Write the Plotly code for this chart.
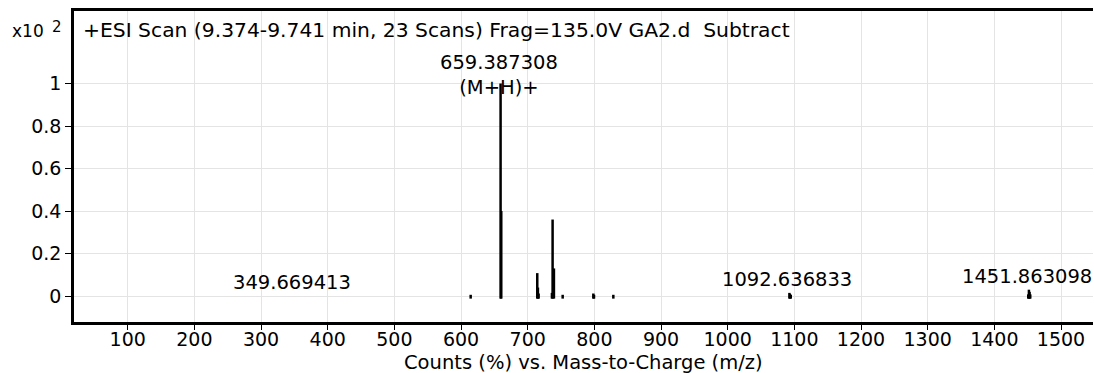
import plotly.graph_objects as go

# ---- data (m/z, relative abundance x10^2) ----
peak_mz = [614.5, 659.387308, 660.39, 714.4, 715.4, 716.4,
           736.4, 737.4, 739.4, 752.5, 798.5, 799.5, 828.5,
           1092.636833, 1093.64, 1094.64, 1450.86, 1451.863098, 1452.87, 1453.87]
peak_int = [0.006, 1.0, 0.40, 0.108, 0.04, 0.012,
            0.015, 0.36, 0.13, 0.006, 0.012, 0.006, 0.006,
            0.015, 0.01, 0.005, 0.008, 0.03, 0.02, 0.008]

label_mz = [349.669413, 659.387308, 1092.636833, 1451.863098]
label_int = [0.0, 1.0, 0.015, 0.03]
label_text = ["349.669413", "659.387308<br>(M+H)+", "1092.636833", "1451.863098"]

x_ticks = [100, 200, 300, 400, 500, 600, 700, 800, 900, 1000, 1100, 1200, 1300, 1400, 1500]
y_ticks = [0, 0.2, 0.4, 0.6, 0.8, 1]
y_tick_text = ["0", "0.2", "0.4", "0.6", "0.8", "1"]

title_text = "+ESI Scan (9.374-9.741 min, 23 Scans) Frag=135.0V GA2.d  Subtract"
x_title = "Counts (%) vs. Mass-to-Charge (m/z)"

BASE = -0.012
FONT = "DejaVu Sans, Arial, sans-serif"

xs, ys = [], []
for m, v in zip(peak_mz, peak_int):
    xs += [m, m, None]
    ys += [BASE, v, None]

fig = go.Figure()
fig.add_trace(go.Scatter(x=xs, y=ys, mode="lines",
                         line=dict(color="black", width=2.5),
                         hoverinfo="skip", showlegend=False))

# white band at top hiding gridlines under the header
fig.add_shape(type="rect", xref="paper", yref="paper", x0=0, x1=1, y0=0.8746, y1=1,
              fillcolor="white", line=dict(width=0), layer="between")

for m, v, t in zip(label_mz, label_int, label_text):
    two = "<br>" in t
    fig.add_annotation(x=m, y=v, text=t, showarrow=False, xanchor="center",
                       yanchor="middle", yshift=8.5 if two else 13.5, xshift=-2,
                       font=dict(family=FONT, size=19.5, color="black"))

fig.add_annotation(xref="paper", yref="paper", x=0.007, y=0.94, text=title_text,
                   showarrow=False, xanchor="left", yanchor="middle",
                   font=dict(family=FONT, size=20.3, color="black"))
fig.add_annotation(xref="paper", yref="paper", x=-0.0628, y=0.937, text="x10",
                   showarrow=False, xanchor="left", yanchor="middle",
                   font=dict(family=FONT, size=17, color="black"))
fig.add_annotation(xref="paper", yref="paper", x=-0.0235, y=0.948, text="2",
                   showarrow=False, xanchor="left", yanchor="middle",
                   font=dict(family=FONT, size=15, color="black"))
fig.add_annotation(xref="paper", yref="paper", x=0.5, y=-0.129, text=x_title,
                   showarrow=False, xanchor="center", yanchor="middle",
                   font=dict(family=FONT, size=19.5, color="black"))

fig.update_layout(
    width=1094, height=373,
    margin=dict(l=74, r=1, t=11, b=51),
    paper_bgcolor="white", plot_bgcolor="white",
    font=dict(family=FONT, size=19, color="black"),
    xaxis=dict(range=[19.5, 1548], tickvals=x_ticks, showgrid=True,
               gridcolor="#e4e4e4", gridwidth=1, zeroline=False,
               showline=True, linecolor="black", linewidth=2.5, mirror=True,
               ticks="outside", ticklen=5, tickcolor="black", tickwidth=1,
               ticklabelstandoff=-7,
               tickfont=dict(family=FONT, size=19)),
    yaxis=dict(range=[-0.122, 1.341], tickvals=y_ticks, ticktext=y_tick_text,
               showgrid=True, gridcolor="#e4e4e4", gridwidth=1, zeroline=False,
               showline=True, linecolor="black", linewidth=2.5,
               ticks="outside", ticklen=6, tickcolor="black", tickwidth=1,
               tickfont=dict(family=FONT, size=19)),
)

fig.write_html("out.html")
